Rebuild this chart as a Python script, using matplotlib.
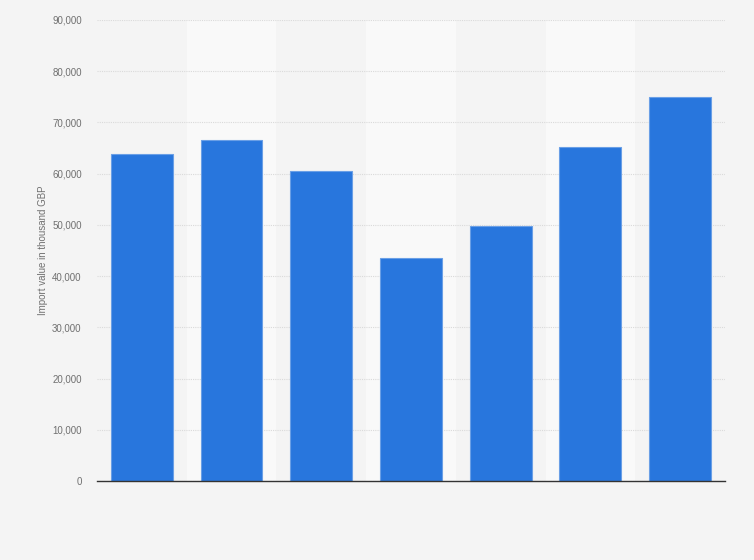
import numpy as np
import matplotlib.pyplot as plt
from matplotlib.ticker import FuncFormatter

# Data (no category labels are shown on the x axis)
categories = ["1", "2", "3", "4", "5", "6", "7"]
import_values = [63800, 66500, 60600, 43500, 49700, 65300, 74900]
y_ticks = [0, 10000, 20000, 30000, 40000, 50000, 60000, 70000, 80000, 90000]

bg_color = "#f4f4f4"
band_color = "#f9f9f9"
bar_color = "#2876dd"

plt.rcParams['font.family'] = ['Liberation Sans', 'DejaVu Sans']

fig = plt.figure(figsize=(7.54, 5.6), dpi=100, facecolor=bg_color)
ax = fig.add_axes([0.1286, 0.1411, 0.8329, 0.8232])
ax.set_facecolor(bg_color)

x = np.arange(len(categories))

# alternating column shading
for i in x:
    if i % 2 == 1:
        ax.axvspan(i - 0.5, i + 0.5, color=band_color, zorder=0, lw=0)

ax.bar(x, import_values, width=0.69, color=bar_color, edgecolor="#6a9fe6",
       linewidth=0.8, zorder=3)

ax.set_xlim(-0.5, len(categories) - 0.5)
ax.set_ylim(0, 90000)
ax.set_yticks(y_ticks)
ax.yaxis.set_major_formatter(FuncFormatter(lambda v, p: f"{int(v):,}"))
ax.set_xticks(x)
ax.set_xticklabels([])
ax.tick_params(axis="x", length=0)
ax.tick_params(axis="y", length=0, pad=11, labelsize=7, labelcolor="#707070")

ax.grid(axis="y", color="#dadada", linestyle=(0, (1, 1)), linewidth=0.8, zorder=1)
ax.set_axisbelow(True)

for side in ["top", "right", "left"]:
    ax.spines[side].set_visible(False)
ax.spines["bottom"].set_color("#333333")
ax.spines["bottom"].set_linewidth(1.0)
ax.spines["bottom"].set_zorder(4)

ax.set_ylabel("Import value in thousand GBP", fontsize=7, color="#707070", labelpad=3)

fig.savefig("out.png", dpi=100, facecolor=bg_color)
